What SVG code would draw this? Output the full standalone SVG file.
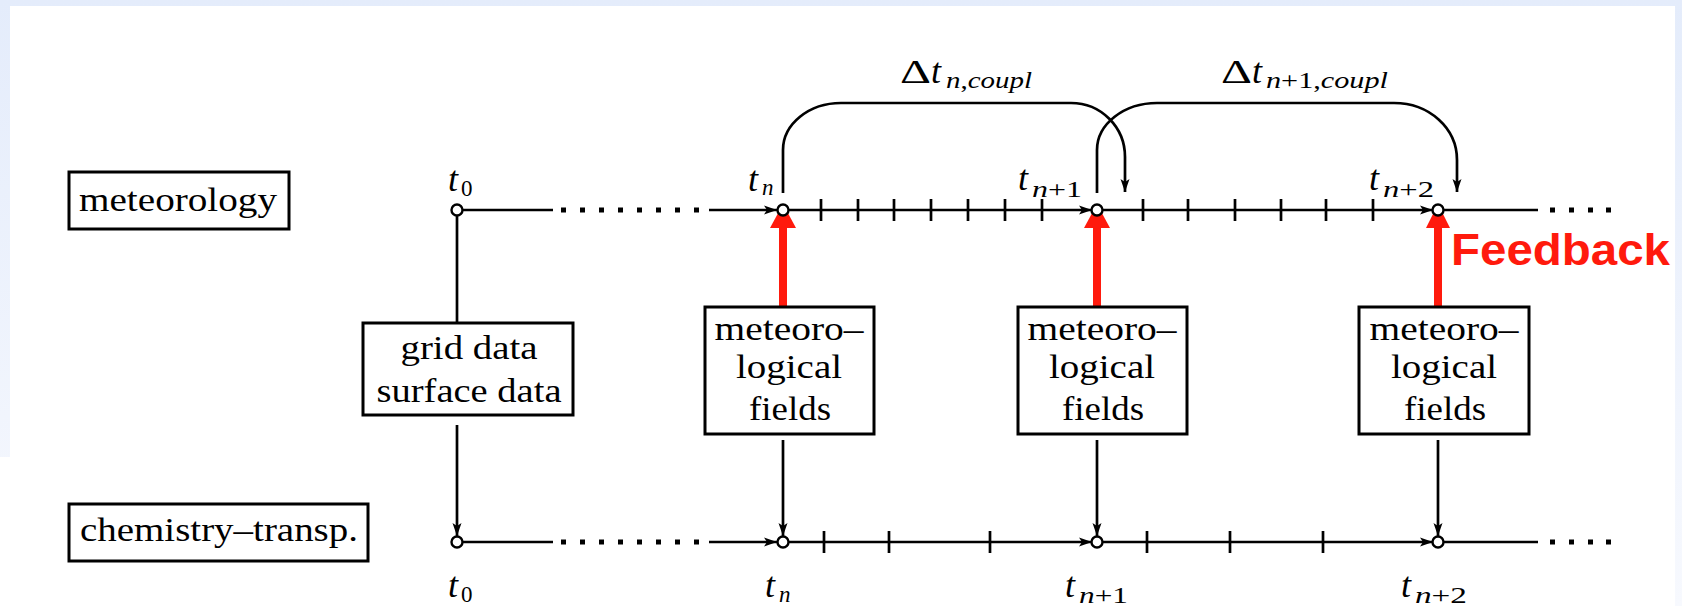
<svg xmlns="http://www.w3.org/2000/svg" width="1682" height="606" viewBox="0 0 1682 606">
<defs>
<linearGradient id="bg" x1="0" y1="0" x2="0" y2="1">
<stop offset="0" stop-color="#e4ecfb"/>
<stop offset="1" stop-color="#f7f9fe"/>
</linearGradient>
<marker id="ah" markerUnits="userSpaceOnUse" markerWidth="14" markerHeight="11" refX="13" refY="5.5" orient="auto">
<path d="M0,1 L13,5.5 L0,10 L3,5.5 Z" fill="#000"/>
</marker>
<style>
.box{fill:#fff;stroke:#000;stroke-width:3}
.lbl{font-family:"Liberation Serif","Times New Roman",serif;font-size:34px;fill:#000}
.ln{stroke:#000;stroke-width:2.7;fill:none}
.tk{stroke:#000;stroke-width:2.7}
.pt{fill:#fff;stroke:#000;stroke-width:2.4}
.dot{fill:#000}
.red{fill:#ff1a0d}
.redl{stroke:#ff1a0d;stroke-width:8}
.mi{font-family:"Liberation Serif","Times New Roman",serif;font-style:italic;font-size:36px;fill:#000}
.sub{font-family:"Liberation Serif","Times New Roman",serif;font-style:italic;font-size:23px;fill:#000}
.rm{font-style:normal}
.fb{font-family:"Liberation Sans",Arial,sans-serif;font-weight:bold;font-size:44px;fill:#ff1a0d}
</style>
</defs>
<rect x="0" y="0" width="1682" height="606" fill="url(#bg)"/>
<rect x="10" y="6" width="1665" height="600" fill="#fff"/>
<rect x="0" y="457" width="12" height="149" fill="#fff"/>

<g id="connectors">
<!-- top timeline -->
<path class="ln" d="M462,210 H553"/>
<path class="ln" d="M709,210 H777" marker-end="url(#ah)"/>
<path class="ln" d="M788,210 H1092" marker-end="url(#ah)"/>
<path class="ln" d="M1102,210 H1433" marker-end="url(#ah)"/>
<path class="ln" d="M1443,210 H1538"/>
<g class="dot">
<rect x="561" y="207.5" width="5" height="5"/><rect x="580" y="207.5" width="5" height="5"/><rect x="599" y="207.5" width="5" height="5"/><rect x="618" y="207.5" width="5" height="5"/><rect x="637" y="207.5" width="5" height="5"/><rect x="656" y="207.5" width="5" height="5"/><rect x="675" y="207.5" width="5" height="5"/><rect x="694" y="207.5" width="5" height="5"/>
<rect x="1550" y="207.5" width="5" height="5"/><rect x="1569" y="207.5" width="5" height="5"/><rect x="1588" y="207.5" width="5" height="5"/><rect x="1606" y="207.5" width="5" height="5"/>
</g>
<g class="tk">
<line x1="821" y1="199" x2="821" y2="221"/><line x1="858" y1="199" x2="858" y2="221"/><line x1="894" y1="199" x2="894" y2="221"/><line x1="931" y1="199" x2="931" y2="221"/><line x1="968" y1="199" x2="968" y2="221"/><line x1="1005" y1="199" x2="1005" y2="221"/><line x1="1042" y1="199" x2="1042" y2="221"/>
<line x1="1143" y1="199" x2="1143" y2="221"/><line x1="1188" y1="199" x2="1188" y2="221"/><line x1="1235" y1="199" x2="1235" y2="221"/><line x1="1281" y1="199" x2="1281" y2="221"/><line x1="1326" y1="199" x2="1326" y2="221"/><line x1="1373" y1="199" x2="1373" y2="221"/>
</g>
<!-- bottom timeline -->
<path class="ln" d="M462,542 H553"/>
<path class="ln" d="M709,542 H777" marker-end="url(#ah)"/>
<path class="ln" d="M788,542 H1092" marker-end="url(#ah)"/>
<path class="ln" d="M1102,542 H1433" marker-end="url(#ah)"/>
<path class="ln" d="M1443,542 H1538"/>
<g class="dot">
<rect x="561" y="539.5" width="5" height="5"/><rect x="580" y="539.5" width="5" height="5"/><rect x="599" y="539.5" width="5" height="5"/><rect x="618" y="539.5" width="5" height="5"/><rect x="637" y="539.5" width="5" height="5"/><rect x="656" y="539.5" width="5" height="5"/><rect x="675" y="539.5" width="5" height="5"/><rect x="694" y="539.5" width="5" height="5"/>
<rect x="1550" y="539.5" width="5" height="5"/><rect x="1569" y="539.5" width="5" height="5"/><rect x="1588" y="539.5" width="5" height="5"/><rect x="1606" y="539.5" width="5" height="5"/>
</g>
<g class="tk">
<line x1="824" y1="531" x2="824" y2="553"/><line x1="889" y1="531" x2="889" y2="553"/><line x1="990" y1="531" x2="990" y2="553"/>
<line x1="1147" y1="531" x2="1147" y2="553"/><line x1="1230" y1="531" x2="1230" y2="553"/><line x1="1323" y1="531" x2="1323" y2="553"/>
</g>
<!-- coupling arcs -->
<path class="ln" stroke-width="2.3" d="M783,193 V150 C783,124 809,103 841,103 H1071 C1101,103 1125,127 1125,157 V192" marker-end="url(#ah)"/>
<path class="ln" stroke-width="2.3" d="M1097,193 V150 C1097,124 1124,103 1157,103 H1394 C1429,103 1457,128 1457,160 V192" marker-end="url(#ah)"/>
<!-- verticals -->
<path class="ln" d="M457,215 V323"/>
<path class="ln" d="M457,425 V536" marker-end="url(#ah)"/>
<path class="ln" d="M783,440 V536" marker-end="url(#ah)"/>
<path class="ln" d="M1097,440 V536" marker-end="url(#ah)"/>
<path class="ln" d="M1438,440 V536" marker-end="url(#ah)"/>
<!-- red feedback arrows -->
<line class="redl" x1="783" y1="307" x2="783" y2="226"/>
<polygon class="red" points="770,228 796,228 783,204"/>
<line class="redl" x1="1097" y1="307" x2="1097" y2="226"/>
<polygon class="red" points="1084,228 1110,228 1097,204"/>
<line class="redl" x1="1438" y1="307" x2="1438" y2="226"/>
<polygon class="red" points="1426,228 1450,228 1438,204"/>
</g>

<!-- time points -->
<g id="points">
<circle class="pt" cx="457" cy="210" r="5.5"/>
<circle class="pt" cx="783" cy="210" r="5.5"/>
<circle class="pt" cx="1097" cy="210" r="5.5"/>
<circle class="pt" cx="1438" cy="210" r="5.5"/>
<circle class="pt" cx="457" cy="542" r="5.5"/>
<circle class="pt" cx="783" cy="542" r="5.5"/>
<circle class="pt" cx="1097" cy="542" r="5.5"/>
<circle class="pt" cx="1438" cy="542" r="5.5"/>
</g>

<g id="meteorology">
<rect class="box" x="69" y="172" width="220" height="57"/>
<text class="lbl" x="79" y="211" textLength="198" lengthAdjust="spacingAndGlyphs">meteorology</text>
</g>
<g id="chemistry">
<rect class="box" x="69" y="504" width="299" height="57"/>
<text class="lbl" x="80" y="541" textLength="278" lengthAdjust="spacingAndGlyphs">chemistry–transp.</text>
</g>
<g id="griddata">
<rect class="box" x="363" y="323" width="210" height="92"/>
<text class="lbl" x="469" y="359" text-anchor="middle" textLength="137" lengthAdjust="spacingAndGlyphs">grid data</text>
<text class="lbl" x="469" y="402" text-anchor="middle" textLength="185" lengthAdjust="spacingAndGlyphs">surface data</text>
</g>
<g id="fields1">
<rect class="box" x="705" y="307" width="169" height="127"/>
<text class="lbl" x="789" y="340" text-anchor="middle" textLength="149" lengthAdjust="spacingAndGlyphs">meteoro–</text>
<text class="lbl" x="789" y="378" text-anchor="middle" textLength="106" lengthAdjust="spacingAndGlyphs">logical</text>
<text class="lbl" x="790" y="420" text-anchor="middle" textLength="82" lengthAdjust="spacingAndGlyphs">fields</text>
</g>
<g id="fields2">
<rect class="box" x="1018" y="307" width="169" height="127"/>
<text class="lbl" x="1102" y="340" text-anchor="middle" textLength="149" lengthAdjust="spacingAndGlyphs">meteoro–</text>
<text class="lbl" x="1102" y="378" text-anchor="middle" textLength="106" lengthAdjust="spacingAndGlyphs">logical</text>
<text class="lbl" x="1103" y="420" text-anchor="middle" textLength="82" lengthAdjust="spacingAndGlyphs">fields</text>
</g>
<g id="fields3">
<rect class="box" x="1359" y="307" width="170" height="127"/>
<text class="lbl" x="1444" y="340" text-anchor="middle" textLength="149" lengthAdjust="spacingAndGlyphs">meteoro–</text>
<text class="lbl" x="1444" y="378" text-anchor="middle" textLength="106" lengthAdjust="spacingAndGlyphs">logical</text>
<text class="lbl" x="1445" y="420" text-anchor="middle" textLength="82" lengthAdjust="spacingAndGlyphs">fields</text>
</g>

<g id="feedback">
<text class="fb" x="1451" y="265" textLength="219" lengthAdjust="spacingAndGlyphs">Feedback</text>
</g>

<g id="time-labels">
<!-- top -->
<text class="mi" x="448" y="191">t</text><text class="sub rm" x="461" y="196">0</text>
<text class="mi" x="748" y="191">t</text><text class="sub" x="762" y="195">n</text>
<text class="mi" x="1018" y="190">t</text><text class="sub" x="1032" y="197" textLength="50" lengthAdjust="spacingAndGlyphs">n<tspan class="rm">+1</tspan></text>
<text class="mi" x="1369" y="190">t</text><text class="sub" x="1383" y="197" textLength="51" lengthAdjust="spacingAndGlyphs">n<tspan class="rm">+2</tspan></text>
<!-- bottom -->
<text class="mi" x="448" y="597">t</text><text class="sub rm" x="461" y="602">0</text>
<text class="mi" x="765" y="597">t</text><text class="sub" x="779" y="602">n</text>
<text class="mi" x="1065" y="597">t</text><text class="sub" x="1079" y="603" textLength="49" lengthAdjust="spacingAndGlyphs">n<tspan class="rm">+1</tspan></text>
<text class="mi" x="1401" y="597">t</text><text class="sub" x="1415" y="603" textLength="52" lengthAdjust="spacingAndGlyphs">n<tspan class="rm">+2</tspan></text>
</g>

<g id="coupling-labels">
<text class="lbl" x="900" y="83" font-size="27" textLength="31" lengthAdjust="spacingAndGlyphs">Δ</text>
<text class="mi" x="931" y="83" font-size="34">t</text>
<text class="sub" x="946" y="88" textLength="86" lengthAdjust="spacingAndGlyphs">n<tspan class="rm">,</tspan>coupl</text>
<text class="lbl" x="1221" y="83" font-size="27" textLength="31" lengthAdjust="spacingAndGlyphs">Δ</text>
<text class="mi" x="1252" y="83" font-size="34">t</text>
<text class="sub" x="1266" y="88" textLength="122" lengthAdjust="spacingAndGlyphs">n<tspan class="rm">+1,</tspan>coupl</text>
</g>
</svg>
